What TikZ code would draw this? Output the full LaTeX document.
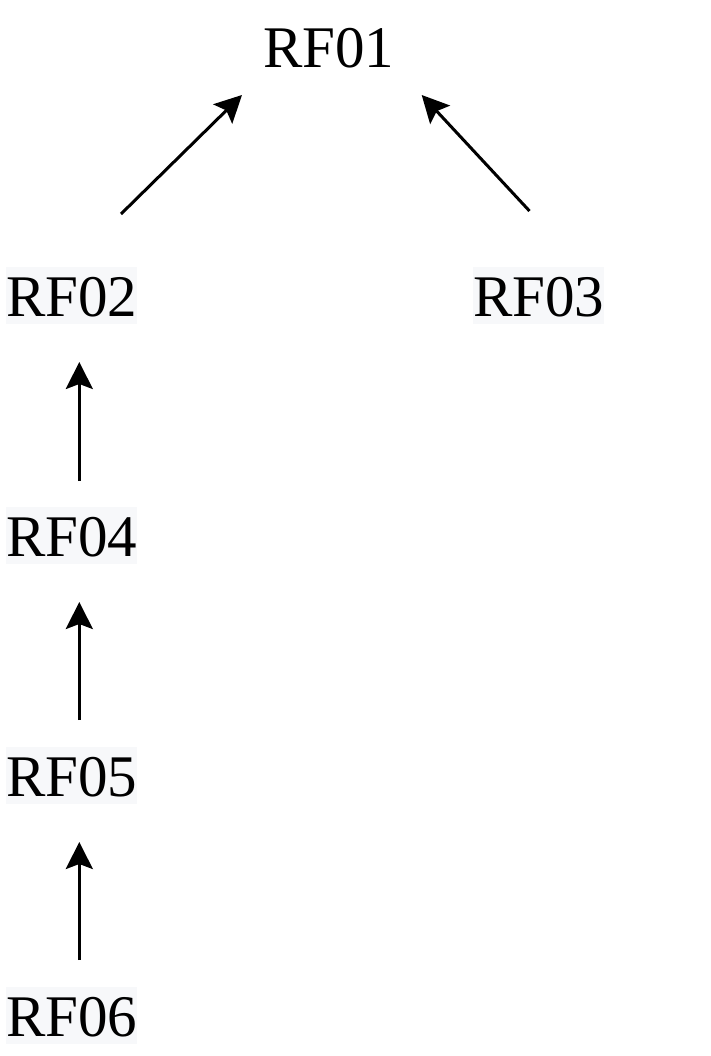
\documentclass[tikz,border=0pt]{standalone}
\usepackage{fontspec}
\setmainfont{Liberation Serif}
\usetikzlibrary{arrows.meta,calc}
\definecolor{labelbg}{HTML}{F7F8FA}
\begin{document}
\begin{tikzpicture}[x=1pt,y=-1pt,
  lbl/.style={anchor=base west,inner sep=0pt,text height=49pt,text depth=8pt,
    font=\fontsize{59}{59}\selectfont},
  lblbg/.style={lbl,fill=labelbg},
  conn/.style={line width=3pt,-{Stealth[length=27pt,width=27pt,inset=5pt]}}]
\useasboundingbox[fill=white] (0,0) rectangle (711,1056);
\node[lbl]   (rf01) at (263,68)   {RF01};
\node[lblbg] (rf02) at (6,316)    {RF02};
\node[lblbg] (rf03) at (473,316)  {RF03};
\node[lblbg] (rf04) at (6,556)    {RF04};
\node[lblbg] (rf05) at (6,796)    {RF05};
\node[lblbg] (rf06) at (6,1036)   {RF06};
\draw[conn] ($(rf02.base west)+(115,-102)$) -- ($(rf01.base west)+(-21,27)$);
\draw[conn] ($(rf03.base west)+(56.5,-105)$) -- ($(rf01.base west)+(158.7,27)$);
\draw[conn] ($(rf04.base west)+(73.3,-75)$) -- ($(rf02.base west)+(73.3,46)$);
\draw[conn] ($(rf05.base west)+(73.3,-76)$) -- ($(rf04.base west)+(73.3,46)$);
\draw[conn] ($(rf06.base west)+(73.3,-76)$) -- ($(rf05.base west)+(73.3,46)$);
\end{tikzpicture}
\end{document}
